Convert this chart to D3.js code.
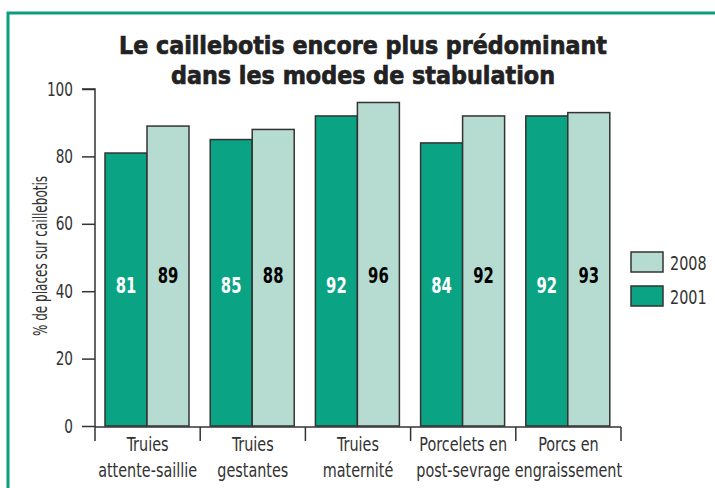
<!DOCTYPE html>
<html>
<head>
<meta charset="utf-8">
<script src="https://cdn.jsdelivr.net/npm/d3@7"></script>
<style>
  body { margin: 0; background: #fff; }
  svg text { font-family: "DejaVu Sans Condensed", "Liberation Sans Narrow", sans-serif; }
</style>
</head>
<body>
<div id="chart"></div>
<script>
const width = 715
const height = 488

const categories = [["Truies", "attente-saillie"], ["Truies", "gestantes"], ["Truies", "maternité"], ["Porcelets en", "post-sevrage"], ["Porcs en", "engraissement"]]
const years = ["2001", "2008"]
const values2001 = [81, 85, 92, 84, 92]
const values2008 = [89, 88, 96, 92, 93]
const yTicks = [0, 20, 40, 60, 80, 100]

const dark = "#0aa384"
const light = "#b6dbd1"
const ink = "#333"
const narrow = 0.8

const svg = d3.select("#chart").append("svg")
  .attr("width", width)
  .attr("height", height)

// cadre vert
svg.append("path")
  .attr("d", `M8,${height + 5} L8,13 L${width + 5},13`)
  .attr("fill", "none")
  .attr("stroke", "#0a9e7e")
  .attr("stroke-width", 3)

// titre
const title = svg.append("text")
  .attr("text-anchor", "middle")
  .attr("fill", "#222")
  .attr("stroke", "#222")
  .attr("stroke-width", 0.7)
  .style("font-family", "'DejaVu Sans', sans-serif")
  .style("font-weight", "bold")
  .style("font-size", "24px")
title.append("tspan").attr("x", 363).attr("y", 54)
  .attr("textLength", 488).attr("lengthAdjust", "spacingAndGlyphs")
  .text("Le caillebotis encore plus prédominant")
title.append("tspan").attr("x", 363).attr("y", 84)
  .attr("textLength", 384).attr("lengthAdjust", "spacingAndGlyphs")
  .text("dans les modes de stabulation")

const x = d3.scaleBand()
  .domain(d3.range(categories.length))
  .range([95, 621])
  .padding(0)

const xInner = d3.scaleBand()
  .domain(years)
  .range([10, 94])

const y = d3.scaleLinear()
  .domain([0, 100])
  .range([426, 89])

// axe y
const yAxis = svg.append("g")
  .attr("transform", "translate(95,0)")
  .call(d3.axisLeft(y).tickValues(yTicks).tickSize(13).tickPadding(9))
yAxis.select(".domain").attr("d", `M-13,${y(100)}H0V${y(0) + 1}`).attr("stroke", ink).attr("stroke-width", 1.5)
yAxis.selectAll(".tick line").attr("stroke", ink).attr("stroke-width", 1.5)
yAxis.selectAll(".tick text")
  .attr("x", -22 / narrow)
  .attr("transform", `scale(${narrow},1)`)
  .attr("fill", ink)
  .style("font-size", "19px")
  .style("font-family", "'DejaVu Sans Condensed', sans-serif")

svg.append("text")
  .attr("transform", "translate(47,256) rotate(-90) scale(0.67,1)")
  .attr("text-anchor", "middle")
  .attr("fill", ink)
  .style("font-size", "20px")
  .text("% de places sur caillebotis")

// barres
const groups = svg.selectAll("g.groupe")
  .data(categories)
  .join("g")
    .attr("class", "groupe")
    .attr("transform", (d, i) => `translate(${x(i)},0)`)

const series = [
  {year: "2001", vals: values2001, fill: dark, txt: "#fff", base: 293},
  {year: "2008", vals: values2008, fill: light, txt: "#000", base: 283}
]

series.forEach(s => {
  groups.append("rect")
    .attr("x", xInner(s.year))
    .attr("width", xInner.bandwidth())
    .attr("y", (d, i) => y(s.vals[i]))
    .attr("height", (d, i) => y(0) - y(s.vals[i]))
    .attr("fill", s.fill)
    .attr("stroke", ink)
    .attr("stroke-width", 1.5)

  groups.append("text")
    .attr("transform", `translate(${xInner(s.year) + xInner.bandwidth() / 2},${s.base}) scale(0.75,1)`)
    .attr("text-anchor", "middle")
    .attr("fill", s.txt)
    .style("font-weight", "bold")
    .style("font-size", "22px")
    .text((d, i) => s.vals[i])
})

// axe x
const xAxis = svg.append("g")
xAxis.append("line")
  .attr("x1", x(0)).attr("x2", x(categories.length - 1) + x.bandwidth())
  .attr("y1", y(0) + 1).attr("y2", y(0) + 1)
  .attr("stroke", ink).attr("stroke-width", 1.5)
const bounds = d3.range(categories.length).map(i => x(i)).concat([x(categories.length - 1) + x.bandwidth()])
xAxis.selectAll("line.tick")
  .data(bounds)
  .join("line")
    .attr("class", "tick")
    .attr("x1", d => d).attr("x2", d => d)
    .attr("y1", y(0) + 1).attr("y2", y(0) + 15)
    .attr("stroke", ink).attr("stroke-width", 1.5)

const labels = svg.selectAll("text.cat")
  .data(categories)
  .join("text")
    .attr("class", "cat")
    .attr("transform", (d, i) => `translate(${x(i) + x.bandwidth() / 2},451) scale(${narrow},1)`)
    .attr("text-anchor", "middle")
    .attr("fill", ink)
    .style("font-size", "20px")
labels.each(function(d) {
  const t = d3.select(this)
  d.forEach((line, j) => {
    t.append("tspan")
      .attr("x", 0)
      .attr("y", j * 26)
      .text(line)
  })
})

// légende
const legend = [{year: "2008", fill: light}, {year: "2001", fill: dark}]
const lg = svg.selectAll("g.legende")
  .data(legend)
  .join("g")
    .attr("class", "legende")
    .attr("transform", (d, i) => `translate(631,${252 + i * 34})`)
lg.append("rect")
  .attr("width", 32).attr("height", 20)
  .attr("fill", d => d.fill)
  .attr("stroke", ink).attr("stroke-width", 1.5)
lg.append("text")
  .attr("transform", `translate(39,18) scale(${narrow},1)`)
  .attr("fill", ink)
  .style("font-size", "20px")
  .text(d => d.year)
</script>
</body>
</html>
